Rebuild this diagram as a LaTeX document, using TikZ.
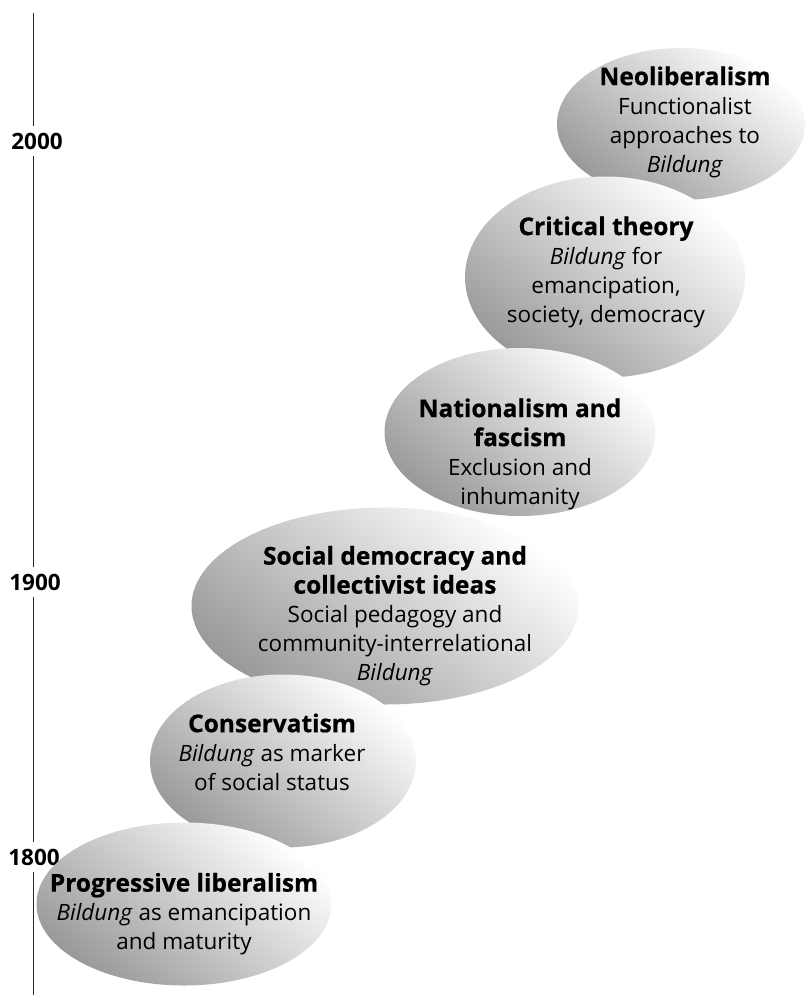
\documentclass[tikz,border=0pt]{standalone}
\usepackage{fontspec}
\setmainfont{Open Sans}
\newfontfamily\ttlfam{Open Sans}[BoldFeatures={FakeBold=0.6}]
\usetikzlibrary{shapes.geometric}
\newcommand\ttlfnt{\ttlfam\bfseries\fontsize{24.5}{29}\selectfont}
\begin{document}
\begin{tikzpicture}[x=1pt,y=-1pt,
  blob/.style={ellipse, draw=none, inner sep=0pt, top color=white, middle color=black!9, bottom color=black!40, shading angle=-38},
  txt/.style={align=center, font=\fontsize{22.5}{29}\selectfont, inner sep=0pt},
  yr/.style={font=\bfseries\fontsize{22.5}{24}\selectfont, inner xsep=0pt, inner ysep=7pt},
  axis/.style={line width=1pt, black!85}]
\useasboundingbox (0,0) rectangle (804,995);
% axis
\coordinate (axtop) at (33,13);
\coordinate (axbot) at (33,995);
\node[yr] (y2000) at (37,141) {2000};
\node[yr] (y1900) at (35,582) {1900};
\node[yr] (y1800) at (34,857) {1800};
\draw[axis] (axtop) -- (axtop |- y2000.north);
\draw[axis] (axtop |- y2000.south) -- (axtop |- y1900.north);
\draw[axis] (axtop |- y1900.south) -- (axtop |- y1800.north);
\draw[axis] (axtop |- y1800.south) -- (axbot);
% ellipses, top first
\node[blob, minimum width=248pt, minimum height=152pt] (e6) at (681,124) {};
\node[blob, minimum width=280pt, minimum height=201pt] (e5) at (605,277) {};
\node[blob, minimum width=271pt, minimum height=168pt] (e4) at (520,432) {};
\node[blob, minimum width=387pt, minimum height=197pt] (e3) at (385,606) {};
\node[blob, minimum width=266pt, minimum height=173pt] (e2) at (283,761) {};
\node[blob, minimum width=295pt, minimum height=163pt] (e1) at (184,904) {};
% texts
\node[txt] (t6) at (685,122) {{\ttlfnt Neoliberalism}\\Functionalist\\approaches to\\\textit{Bildung}};
\node[txt] (t5) at (606,272) {{\ttlfnt Critical theory}\\\textit{Bildung} for\\emancipation,\\society, democracy};
\node[txt] (t4) at (520,454) {{\ttlfnt Nationalism and}\\{\ttlfnt fascism}\\Exclusion and\\inhumanity};
\node[txt] (t3) at (395,616) {{\ttlfnt Social democracy and}\\{\ttlfnt collectivist ideas}\\Social pedagogy and\\community-interrelational\\\textit{Bildung}};
\node[txt] (t2) at (272,752) {{\ttlfnt Conservatism}\\\textit{Bildung} as marker\\of social status};
\node[txt] (t1) at (184,914) {{\ttlfnt Progressive liberalism}\\\textit{Bildung} as emancipation\\and maturity};
\end{tikzpicture}
\end{document}
